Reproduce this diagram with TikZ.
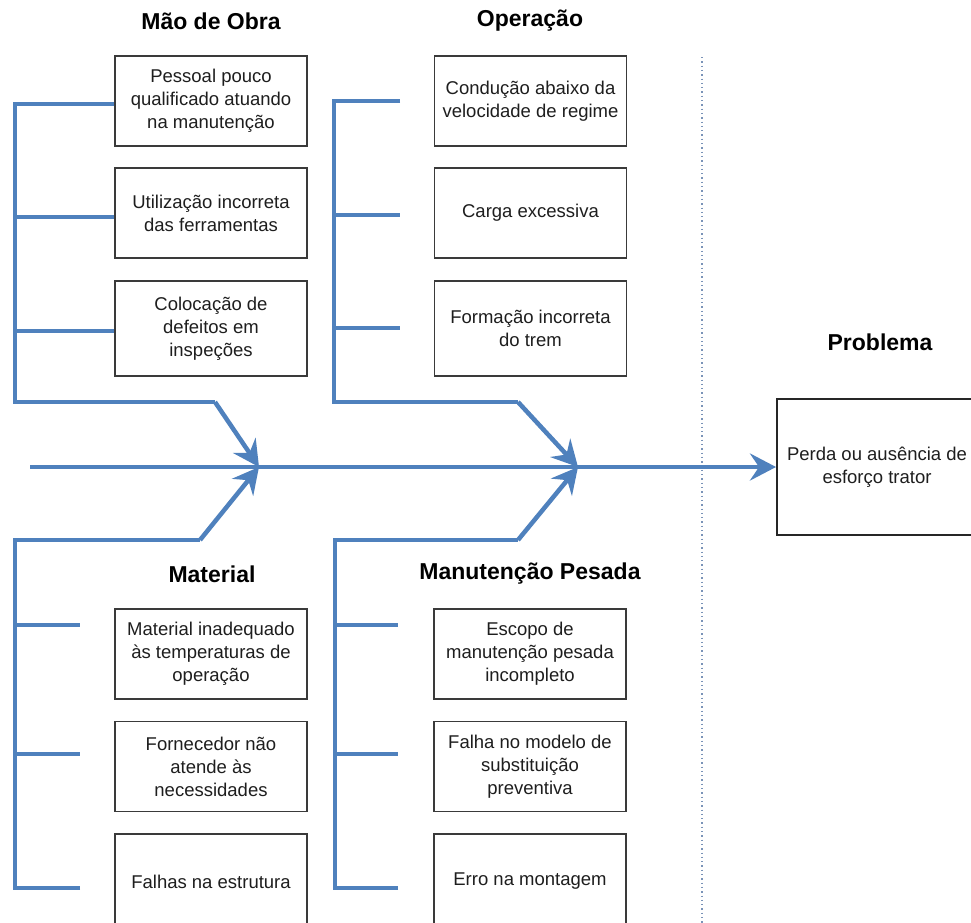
\documentclass[tikz,border=0pt]{standalone}
\usepackage{fontspec}
\setmainfont{Liberation Sans}
\usetikzlibrary{arrows.meta}
\definecolor{bone}{HTML}{4F81BD}
\definecolor{txt}{HTML}{1E1E1E}
\definecolor{boxline}{HTML}{3A3A3A}
\definecolor{dotline}{HTML}{7A93B8}
\tikzset{
  causebox/.style={draw=boxline, line width=1.2pt, minimum width=192pt, minimum height=90pt,
    align=center, text=txt, inner sep=2pt, font=\fontsize{18.5}{23}\selectfont},
  probbox/.style={draw=black!85, line width=2pt, minimum width=200pt, minimum height=136pt,
    align=center, text=txt, font=\fontsize{18.5}{23}\selectfont},
  cattitle/.style={font=\fontsize{23}{27}\selectfont\bfseries, text=black},
  bonel/.style={draw=bone, line width=4.5pt, line join=miter},
  bonearrow/.style={bonel, -{Stealth[length=26pt,width=27pt,inset=9pt]}},
}
\begin{document}
\begin{tikzpicture}[x=1pt,y=-1pt]
\clip (0,0) rectangle (971,922);
\fill[white] (0,0) rectangle (971,922);

% titles
\node[cattitle] (tmo) at (211,21) {Mão de Obra};
\node[cattitle] (top) at (530,21) {Operação};
\node[cattitle] (tma) at (212,574) {Material};
\node[cattitle] (tmp) at (530,574) {Manutenção Pesada};
\node[cattitle] (tpr) at (880,342) {Problema};

% Mão de Obra boxes
\node[causebox] (mo1) at (211,101) {Pessoal pouco\\qualificado atuando\\na manutenção};
\node[causebox] (mo2) at (211,213) {Utilização incorreta\\das ferramentas};
\node[causebox, minimum height=95pt] (mo3) at (211,328.5) {Colocação de\\defeitos em\\inspeções};

% Operação boxes
\node[causebox] (op1) at (530.5,101) {Condução abaixo da\\velocidade de regime};
\node[causebox] (op2) at (530.5,213) {Carga excessiva};
\node[causebox, minimum height=95pt] (op3) at (530.5,328.5) {Formação incorreta\\do trem};

% Material boxes
\node[causebox] (ma1) at (211,654) {Material inadequado\\às temperaturas de\\operação};
\node[causebox] (ma2) at (211,766.5) {Fornecedor não\\atende às\\necessidades};
\node[causebox, minimum height=95pt] (ma3) at (211,881.5) {Falhas na estrutura};

% Manutenção Pesada boxes
\node[causebox] (mp1) at (530,654) {Escopo de\\manutenção pesada\\incompleto};
\node[causebox] (mp2) at (530,766.5) {Falha no modelo de\\substituição\\preventiva};
\node[causebox, minimum height=95pt] (mp3) at (530,881.5) {Erro na montagem};

% Problem box
\node[probbox] (prob) at (877,467) {Perda ou ausência de\\esforço trator};

% dotted separator
\coordinate (dtop) at (702,57);
\coordinate (dbot) at (702,925);
\draw[dotline, line width=1.3pt, dash pattern=on 1.3pt off 3pt] (dtop) -- (dbot);

% key coordinates
\coordinate (tail) at (30,467);
\coordinate (h1) at (259,467);
\coordinate (h2) at (578,467);

% main spine
\draw[bonearrow] (tail) -- (prob.west);

% Mão de Obra bone
\coordinate (a0) at (15,104);
\coordinate (a1) at (15,402);
\coordinate (a2) at (215,402);
\draw[bonel] (mo1.west |- a0) -- (a0) -- (a1) -- (a2);
\draw[bonearrow] (a2) -- (h1);
\draw[bonel] (15,217) -- (mo2.west |- 15,217);
\draw[bonel] (15,331) -- (mo3.west |- 15,331);

% Operação bone
\coordinate (b0) at (334,101);
\coordinate (b1) at (334,402);
\coordinate (b2) at (518,402);
\coordinate (bt1) at (400,101);
\coordinate (bt2) at (400,215);
\coordinate (bt3) at (400,328);
\draw[bonel] (bt1) -- (b0) -- (b1) -- (b2);
\draw[bonearrow] (b2) -- (h2);
\draw[bonel] (334,215) -- (bt2);
\draw[bonel] (334,328) -- (bt3);

% Material bone
\coordinate (c0) at (15,888);
\coordinate (c1) at (15,540);
\coordinate (c2) at (200,540);
\coordinate (ct1) at (80,625);
\coordinate (ct2) at (80,754);
\coordinate (ct3) at (80,888);
\draw[bonel] (ct3) -- (c0) -- (c1) -- (c2);
\draw[bonearrow] (c2) -- (h1);
\draw[bonel] (15,625) -- (ct1);
\draw[bonel] (15,754) -- (ct2);

% Manutenção Pesada bone
\coordinate (d0) at (335,888);
\coordinate (d1) at (335,540);
\coordinate (d2) at (518,540);
\coordinate (dt1) at (398,625);
\coordinate (dt2) at (398,754);
\coordinate (dt3) at (398,888);
\draw[bonel] (dt3) -- (d0) -- (d1) -- (d2);
\draw[bonearrow] (d2) -- (h2);
\draw[bonel] (335,625) -- (dt1);
\draw[bonel] (335,754) -- (dt2);
\end{tikzpicture}
\end{document}
